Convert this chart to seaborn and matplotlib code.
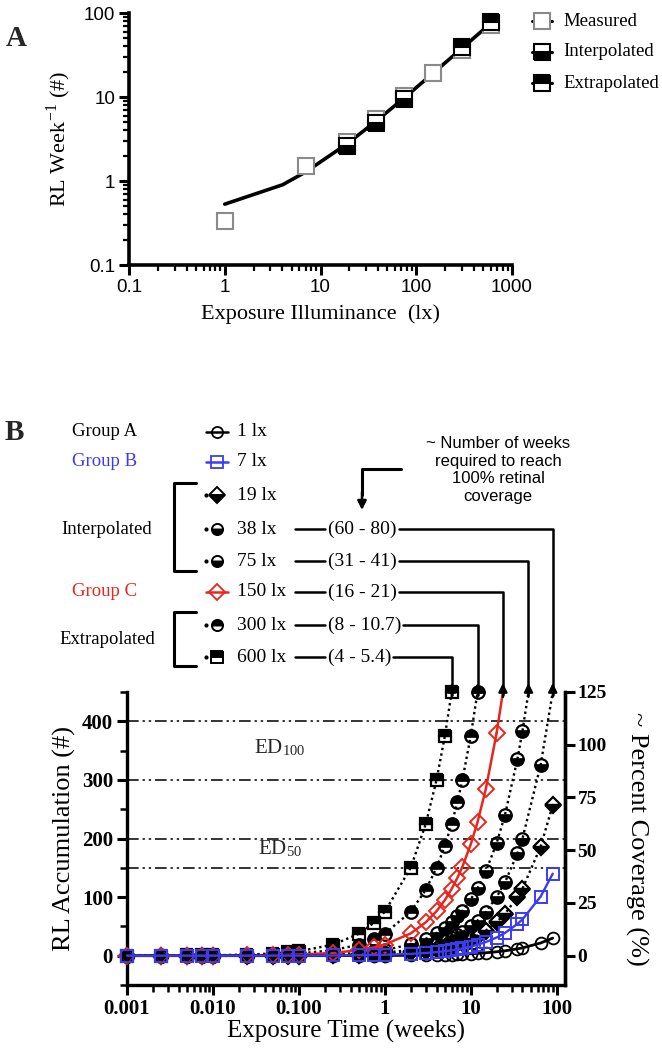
import matplotlib
matplotlib.use('Agg')
import numpy as np
import pandas as pd
import matplotlib.pyplot as plt
from matplotlib.lines import Line2D
from matplotlib.patches import FancyArrowPatch
from matplotlib.ticker import LogLocator, NullFormatter, MultipleLocator, FixedLocator
import seaborn as sns

# ---------------- Panel A data ----------------
lux_measured = [1, 7, 19, 38, 75, 150, 300, 600]
rate_measured = [0.33, 1.5, 2.9, 5.4, 10.3, 19.3, 36.0, 71.0]
lux_interpolated = [19, 38, 75]
rate_interpolated = [2.6, 4.9, 9.5]
lux_extrapolated = [300, 600]
rate_extrapolated = [39.0, 78.0]
fit_lux = [1, 4, 7, 19, 38, 75, 150, 300, 600]
fit_rate = [0.53, 0.9, 1.28, 2.78, 5.15, 9.78, 19.2, 38.0, 75.4]
a_xticks = [0.1, 1, 10, 100, 1000]
a_xticklabels = ['0.1', '1', '10', '100', '1000']
a_yticks = [0.1, 1, 10, 100]
a_yticklabels = ['0.1', '1', '10', '100']
a_legend = ['Measured', 'Interpolated', 'Extrapolated']

# ---------------- Panel B data ----------------
weeks_all = [0.001, 0.0025, 0.005, 0.0075, 0.01, 0.025, 0.05, 0.075, 0.1, 0.25, 0.5, 0.75, 1,
             2, 3, 4, 5, 6, 7, 8, 10, 12, 15, 20, 25, 35, 40, 65, 90]
rl_1lx = [0.0, 0.0, 0.0, 0.0, 0.0, 0.01, 0.02, 0.02, 0.03, 0.08, 0.17, 0.25, 0.33,
          0.7, 1.0, 1.3, 1.7, 2.0, 2.3, 2.7, 3.3, 4.0, 5.0, 6.7, 8.3, 11.7, 13.3, 21.7, 30.0]
rl_7lx = [0.0, 0.0, 0.01, 0.01, 0.02, 0.04, 0.08, 0.12, 0.16, 0.39, 0.78, 1.2, 1.55,
          3.1, 4.7, 6.2, 7.8, 9.3, 10.9, 12.4, 15.5, 18.6, 23.3, 31.0, 38.8, 54.3, 62.0, 100.8, 140.0]
rl_19lx = [0.0, 0.01, 0.01, 0.02, 0.03, 0.07, 0.14, 0.21, 0.29, 0.72, 1.4, 2.1, 2.9,
           5.7, 8.6, 11.4, 14.3, 17.2, 20.0, 22.9, 28.6, 34.3, 42.9, 57.2, 71.5, 100.1, 114.4, 185.9, 257.0]
rl_38lx = [0.01, 0.01, 0.03, 0.04, 0.05, 0.13, 0.25, 0.38, 0.5, 1.25, 2.5, 3.75, 5.0,
           10, 15, 20, 25, 30, 35, 40, 50, 60, 75, 100, 125, 175, 200, 325]
rl_75lx = [0.01, 0.02, 0.05, 0.07, 0.1, 0.24, 0.48, 0.72, 0.96, 2.4, 4.8, 7.2, 9.6,
           19.2, 28.8, 38.4, 48, 57.6, 67.2, 76.8, 96, 115.2, 144, 192, 240, 336, 384]
rl_150lx = [0.02, 0.05, 0.1, 0.14, 0.19, 0.48, 0.95, 1.4, 1.9, 4.8, 9.5, 14.3, 19,
            38, 57, 76, 95, 114, 133, 152, 190, 228, 285, 380]
rl_300lx = [0.04, 0.09, 0.19, 0.28, 0.38, 0.94, 1.9, 2.8, 3.75, 9.4, 18.8, 28.1, 37.5,
            75, 112.5, 150, 187.5, 225, 262.5, 300, 375, 450]
rl_600lx = [0.08, 0.19, 0.38, 0.56, 0.75, 1.9, 3.75, 5.6, 7.5, 18.8, 37.5, 56.3, 75,
            150, 225, 300, 375, 450]
# weeks at which each fitted curve reaches the top of the axis (~450 RL)
reach_weeks = {'38 lx': 90, '75 lx': 47, '150 lx': 23.7, '300 lx': 12, '600 lx': 6}
reach_rl = 450
week_ranges = {'38 lx': '(60 - 80)', '75 lx': '(31 - 41)', '150 lx': '(16 - 21)',
               '300 lx': '(8 - 10.7)', '600 lx': '(4 - 5.4)'}
ref_lines = [400, 300, 200, 150]
b_xticks = [0.001, 0.01, 0.1, 1, 10, 100]
b_xticklabels = ['0.001', '0.010', '0.100', '1', '10', '100']
b_yticks = [0, 100, 200, 300, 400]
pct_ticks = [0, 25, 50, 75, 100, 125]
rl_per_100pct = 360

BLUE = '#3b3bf5'
RED = '#e8261e'
GRAY = '#8a8a8a'

W, H = 662, 1050
sns.set_theme(style='ticks')
plt.rcParams['font.family'] = ['Liberation Serif', 'DejaVu Serif']
plt.rcParams['mathtext.fontset'] = 'stix'
fig = plt.figure(figsize=(W / 100, H / 100), dpi=100)


def fx(px):
    return px / W


def fy(py):
    return 1 - py / H


# ======================= Panel A =======================
axA = fig.add_axes([fx(129), fy(265), fx(512) - fx(129), fy(13) - fy(265)])
axA.set_xscale('log')
axA.set_yscale('log')
sns.lineplot(x=fit_lux, y=fit_rate, ax=axA, color='black', lw=2.6, estimator=None, sort=False, zorder=2)
sns.lineplot(x=lux_measured, y=rate_measured, ax=axA, estimator=None, sort=False, linestyle='none',
             marker='s', markersize=11, markerfacecolor='white', markeredgecolor=GRAY,
             markeredgewidth=1.5, zorder=3, clip_on=False)
sns.lineplot(x=lux_interpolated, y=rate_interpolated, ax=axA, estimator=None, sort=False, linestyle='none',
             marker='s', markersize=11, fillstyle='bottom', markerfacecolor='black',
             markerfacecoloralt='white', markeredgecolor='black', markeredgewidth=1.5, zorder=4)
sns.lineplot(x=lux_extrapolated, y=rate_extrapolated, ax=axA, estimator=None, sort=False, linestyle='none',
             marker='s', markersize=11, fillstyle='top', markerfacecolor='black',
             markerfacecoloralt='white', markeredgecolor='black', markeredgewidth=1.5, zorder=4, clip_on=False)
axA.set_xlim(0.1, 1000)
axA.set_ylim(0.1, 100)
axA.set_xticks(a_xticks)
axA.set_xticklabels(a_xticklabels)
axA.set_yticks(a_yticks)
axA.set_yticklabels(a_yticklabels)
axA.xaxis.set_minor_locator(LogLocator(base=10, subs=np.arange(2, 10)))
axA.yaxis.set_minor_locator(LogLocator(base=10, subs=np.arange(2, 10)))
axA.xaxis.set_minor_formatter(NullFormatter())
axA.yaxis.set_minor_formatter(NullFormatter())
for s in ['top', 'right']:
    axA.spines[s].set_visible(False)
for s in ['left', 'bottom']:
    axA.spines[s].set_linewidth(2.6)
    axA.spines[s].set_color('black')
axA.tick_params(which='major', direction='out', length=7, width=2.2, colors='black', labelsize=13.5, pad=3)
axA.tick_params(which='minor', direction='out', length=4, width=1.6, colors='black')
for lab in axA.get_xticklabels() + axA.get_yticklabels():
    lab.set_fontfamily('Liberation Sans')
axA.set_xlabel('Exposure Illuminance  (lx)', fontsize=16, labelpad=6, color='black')
axA.set_ylabel(r'RL Week$^{\mathregular{-1}}$ (#)', fontsize=16, labelpad=8, color='black')
axA.grid(False)

# legend A (drawn manually)
leg_rows = [21, 52, 83]
styles = [dict(fillstyle='full', markerfacecolor='white', markeredgecolor=GRAY),
          dict(fillstyle='bottom', markerfacecolor='black', markerfacecoloralt='white', markeredgecolor='black'),
          dict(fillstyle='top', markerfacecolor='black', markerfacecoloralt='white', markeredgecolor='black')]
for yy, lab, st in zip(leg_rows, a_legend, styles):
    fig.add_artist(Line2D([fx(532), fx(552)], [fy(yy), fy(yy)], color='black', lw=2.2))
    fig.add_artist(Line2D([fx(542)], [fy(yy)], marker='s', markersize=11, markeredgewidth=1.5,
                          linestyle='none', **st))
    fig.text(fx(563), fy(yy), lab, fontsize=13.5, ha='left', va='center', color='black')

fig.text(fx(16), fy(38), 'A', fontsize=21, fontweight='bold', ha='center', va='center')

# ======================= Panel B =======================
axB = fig.add_axes([fx(127), fy(985), fx(565) - fx(127), fy(692) - fy(985)])
axB.set_xscale('log')
axB.set_xlim(0.001, 125)
axB.set_ylim(-50, 450)

for v in ref_lines:
    axB.axhline(v, color='#333333', lw=1.4, linestyle=(0, (6, 2, 1.2, 2, 1.2, 2)), zorder=1)

DOT = (0, (1, 1.4))
series = [
    ('19 lx', weeks_all[:len(rl_19lx)], rl_19lx, 'D', 'bottom', 8.5),
    ('38 lx', weeks_all[:len(rl_38lx)], rl_38lx, 'o', 'bottom', 9),
    ('75 lx', weeks_all[:len(rl_75lx)], rl_75lx, 'o', 'bottom', 9),
    ('300 lx', weeks_all[:len(rl_300lx)], rl_300lx, 'o', 'top', 9),
    ('600 lx', weeks_all[:len(rl_600lx)], rl_600lx, 's', 'top', 8.5),
]
# Group C : 150 lx
wk150 = weeks_all[:len(rl_150lx)]
sns.lineplot(x=wk150, y=rl_150lx, ax=axB, estimator=None, sort=False, color=RED, lw=1.8,
             marker='D', markersize=8.5, markerfacecolor='none', markeredgecolor=RED, markeredgewidth=1.4,
             zorder=4, clip_on=False)
sns.lineplot(x=[wk150[-1], reach_weeks['150 lx']], y=[rl_150lx[-1], reach_rl], ax=axB, estimator=None,
             sort=False, color=RED, lw=1.8, zorder=4, clip_on=False)
for name, wk, rl, mk, fs, ms in series:
    sns.lineplot(x=wk, y=rl, ax=axB, estimator=None, sort=False, color='black', lw=1.7, linestyle=DOT,
                 marker=mk, markersize=ms, fillstyle=fs, markerfacecolor='black', markerfacecoloralt='none',
                 markeredgecolor='black', markeredgewidth=1.6, zorder=3, clip_on=False)
    if name in reach_weeks and reach_weeks[name] > wk[-1]:
        sns.lineplot(x=[wk[-1], reach_weeks[name]], y=[rl[-1], reach_rl], ax=axB, estimator=None,
                     sort=False, color='black', lw=1.7, linestyle=DOT, zorder=3, clip_on=False)

# Group A : 1 lx
sns.lineplot(x=weeks_all[:len(rl_1lx)], y=rl_1lx, ax=axB, estimator=None, sort=False, color='black', lw=2.0,
             marker='o', markersize=8.5, markerfacecolor='none', markeredgecolor='black', markeredgewidth=1.3,
             zorder=4, clip_on=False)
# Group B : 7 lx
sns.lineplot(x=weeks_all[:len(rl_7lx)], y=rl_7lx, ax=axB, estimator=None, sort=False, color=BLUE, lw=1.7,
             marker='s', markersize=8.5, markerfacecolor='none', markeredgecolor=BLUE, markeredgewidth=1.4,
             zorder=5, clip_on=False)

axB.set_xticks(b_xticks)
axB.set_xticklabels(b_xticklabels)
axB.xaxis.set_minor_locator(LogLocator(base=10, subs=np.arange(2, 10)))
axB.xaxis.set_minor_formatter(NullFormatter())
axB.set_yticks(b_yticks)
axB.yaxis.set_minor_locator(MultipleLocator(50))
axB.spines['top'].set_visible(False)
for s in ['left', 'bottom', 'right']:
    axB.spines[s].set_linewidth(2.4)
    axB.spines[s].set_color('black')
axB.tick_params(which='major', direction='out', length=7, width=2.2, colors='black', labelsize=15, pad=3)
axB.tick_params(which='minor', direction='out', length=5, width=1.8, colors='black')
for lab in axB.get_xticklabels() + axB.get_yticklabels():
    lab.set_fontweight('bold')
axB.set_xlabel('Exposure Time (weeks)', fontsize=18, labelpad=1, color='black')
axB.set_ylabel('RL Accumulation (#)', fontsize=19, labelpad=4, color='black')
axB.grid(False)

axR = axB.twinx()
axR.set_ylim(-50 / rl_per_100pct * 100, 450 / rl_per_100pct * 100)
axR.set_yticks(pct_ticks)
for s in ['top', 'left', 'bottom']:
    axR.spines[s].set_visible(False)
axR.spines['right'].set_linewidth(2.4)
axR.spines['right'].set_color('black')
axR.tick_params(axis='y', which='major', direction='out', length=7, width=2.2, colors='black', labelsize=14, pad=2)
for lab in axR.get_yticklabels():
    lab.set_fontweight('bold')
axR.set_ylabel('~ Percent Coverage (%)', fontsize=19, rotation=270, labelpad=30, color='black')
axR.grid(False)

axB.text(0.06, 355, r'ED$_{\mathregular{100}}$', fontsize=15, ha='center', va='center')
axB.text(0.06, 182, r'ED$_{\mathregular{50}}$', fontsize=15, ha='center', va='center')

fig.text(fx(14), fy(433), 'B', fontsize=21, fontweight='bold', ha='center', va='center')

# ---- legend block for panel B ----
rows = {'1 lx': 432, '7 lx': 462, '19 lx': 495, '38 lx': 529, '75 lx': 561,
        '150 lx': 592, '300 lx': 625, '600 lx': 657}
fig.text(fx(105), fy(432), 'Group A', fontsize=13.5, ha='center', va='center', color='black')
fig.text(fx(105), fy(462), 'Group B', fontsize=13.5, ha='center', va='center', color=BLUE)
fig.text(fx(107), fy(529), 'Interpolated', fontsize=13.5, ha='center', va='center', color='black')
fig.text(fx(105), fy(592), 'Group C', fontsize=13.5, ha='center', va='center', color=RED)
fig.text(fx(107), fy(640), 'Extrapolated', fontsize=13.5, ha='center', va='center', color='black')
for y0, y1 in [(483, 571), (612, 666)]:
    fig.add_artist(Line2D([fx(196), fx(174), fx(174), fx(196)], [fy(y0), fy(y0), fy(y1), fy(y1)],
                          color='black', lw=2.2))

leg_styles = {
    '1 lx': dict(marker='o', color='black', markerfacecolor='none', markeredgecolor='black', solid=True),
    '7 lx': dict(marker='s', color=BLUE, markerfacecolor='none', markeredgecolor=BLUE, solid=True),
    '19 lx': dict(marker='D', color='black', fillstyle='bottom', markerfacecolor='black',
                  markerfacecoloralt='white', markeredgecolor='black', solid=False),
    '38 lx': dict(marker='o', color='black', fillstyle='bottom', markerfacecolor='black',
                  markerfacecoloralt='white', markeredgecolor='black', solid=False),
    '75 lx': dict(marker='o', color='black', fillstyle='bottom', markerfacecolor='black',
                  markerfacecoloralt='white', markeredgecolor='black', solid=False),
    '150 lx': dict(marker='D', color=RED, markerfacecolor='none', markeredgecolor=RED, solid=True),
    '300 lx': dict(marker='o', color='black', fillstyle='top', markerfacecolor='black',
                   markerfacecoloralt='white', markeredgecolor='black', solid=False),
    '600 lx': dict(marker='s', color='black', fillstyle='top', markerfacecolor='black',
                   markerfacecoloralt='white', markeredgecolor='black', solid=False),
}
for name, yy in rows.items():
    st = dict(leg_styles[name])
    solid = st.pop('solid')
    if solid:
        fig.add_artist(Line2D([fx(206), fx(217), fx(228)], [fy(yy)] * 3, lw=1.8, markevery=[1],
                              markersize=8, markeredgewidth=1.3, **st))
    else:
        fig.add_artist(Line2D([fx(206)], [fy(yy)], marker='o', markersize=2, color='black', linestyle='none'))
        fig.add_artist(Line2D([fx(217)], [fy(yy)], linestyle='none', markersize=8, markeredgewidth=1.4, **st))
    fig.text(fx(237), fy(yy), name, fontsize=14, ha='left', va='center', color='black')

renderer = fig.canvas.get_renderer()
inv = fig.transFigure.inverted()
arrow_tip = 683
for name, rng in week_ranges.items():
    yy = rows[name]
    x_arrow = inv.transform(axB.transData.transform((reach_weeks[name], 0)))[0]
    fig.add_artist(Line2D([fx(295), fx(325)], [fy(yy)] * 2, color='black', lw=1.8))
    t = fig.text(fx(328), fy(yy), rng, fontsize=14, ha='left', va='center', color='black')
    bb = t.get_window_extent(renderer=renderer)
    x_end = inv.transform((bb.x1 + 2, 0))[0]
    fig.add_artist(Line2D([x_end, x_arrow, x_arrow], [fy(yy), fy(yy), fy(arrow_tip + 12)],
                          color='black', lw=1.8))
    fig.add_artist(FancyArrowPatch((x_arrow, fy(arrow_tip + 14)), (x_arrow, fy(arrow_tip)),
                                   transform=fig.transFigure, arrowstyle='-|>', mutation_scale=13,
                                   color='black', lw=1.6, shrinkA=0, shrinkB=0))

fig.text(fx(498), fy(470), '~ Number of weeks\nrequired to reach\n100% retinal\ncoverage',
         fontsize=12, ha='center', va='center', family='Liberation Sans', linespacing=1.2, color='black')
fig.add_artist(Line2D([fx(401), fx(362), fx(362)], [fy(469), fy(469), fy(495)], color='black', lw=2.2))
fig.add_artist(FancyArrowPatch((fx(362), fy(492)), (fx(362), fy(510)), transform=fig.transFigure,
                               arrowstyle='-|>', mutation_scale=13, color='black', lw=1.8,
                               shrinkA=0, shrinkB=0))

fig.savefig('out.png', dpi=100, facecolor='white')
